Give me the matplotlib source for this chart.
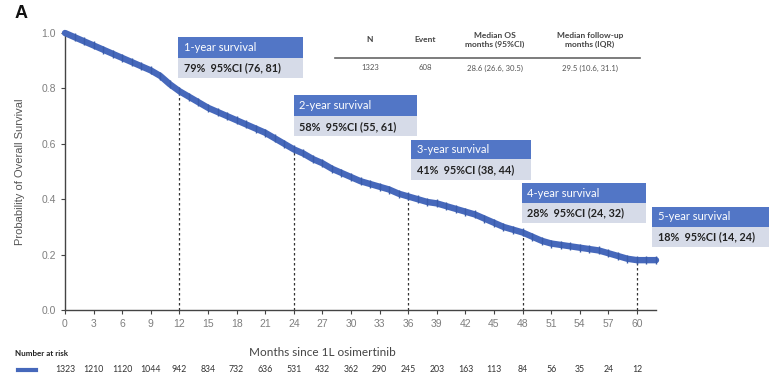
import matplotlib
matplotlib.use("Agg")
import matplotlib.pyplot as plt
from matplotlib.patches import Rectangle
from matplotlib.transforms import blended_transform_factory

# Kaplan-Meier overall survival estimate, read monthly
months = list(range(0, 63))
survival = [1.00, 0.985, 0.97, 0.955, 0.94, 0.925, 0.91, 0.895, 0.88, 0.865,
            0.845, 0.815, 0.79, 0.77, 0.75, 0.73, 0.715, 0.70, 0.685, 0.67,
            0.655, 0.64, 0.62, 0.60, 0.58, 0.565, 0.545, 0.53, 0.51, 0.495,
            0.48, 0.465, 0.455, 0.445, 0.435, 0.42, 0.41, 0.40, 0.39, 0.385,
            0.375, 0.365, 0.355, 0.345, 0.33, 0.315, 0.30, 0.29, 0.28, 0.265,
            0.25, 0.24, 0.235, 0.23, 0.225, 0.22, 0.215, 0.205, 0.195, 0.185,
            0.18, 0.18, 0.18]

# Landmark survival annotations
landmark_months = [12, 24, 36, 48, 60]
landmark_titles = ["1-year survival", "2-year survival", "3-year survival",
                   "4-year survival", "5-year survival"]
landmark_rates = [0.79, 0.58, 0.41, 0.28, 0.18]
landmark_ci = ["(76, 81)", "(55, 61)", "(38, 44)", "(24, 32)", "(14, 24)"]

# Summary table
table_headers = ["N", "Event", "Median OS\nmonths (95%CI)", "Median follow-up\nmonths (IQR)"]
table_values = ["1323", "608", "28.6 (26.6, 30.5)", "29.5 (10.6, 31.1)"]

# Number at risk
risk_months = list(range(0, 61, 3))
at_risk = [1323, 1210, 1120, 1044, 942, 834, 732, 636, 531, 432, 362, 290,
           245, 203, 163, 113, 84, 56, 35, 24, 12]

BLUE = "#4668bb"
HEADER = "#5276c6"
LIGHT = "#d6dbe8"
GRAY = "#7f7f7f"

W, H = 769, 384
fig = plt.figure(figsize=(W / 100, H / 100), dpi=100)
ax = fig.add_axes([65 / W, 1 - 310 / H, 591 / W, 277 / H])

ax.plot(months, survival, color=BLUE, lw=4.6, solid_joinstyle="round",
        solid_capstyle="round", clip_on=False, zorder=3)
ax.plot(months[1:], survival[1:], ls="none", marker="|", ms=6, mew=1.0,
        color="#3a5cab", zorder=4, clip_on=False)

ax.set_xlim(0, 62)
ax.set_ylim(0, 1.0)
ax.set_xticks(risk_months)
ax.set_xticklabels([str(m) for m in risk_months])
ax.set_yticks([0, 0.2, 0.4, 0.6, 0.8, 1.0])
ax.set_yticklabels(["0.0", "0.2", "0.4", "0.6", "0.8", "1.0"])
for s in ["top", "right"]:
    ax.spines[s].set_visible(False)
for s in ["left", "bottom"]:
    ax.spines[s].set_color("#444444")
    ax.spines[s].set_linewidth(1.0)
ax.tick_params(axis="both", length=3, width=0.8, color="#444444",
               labelsize=7.5, labelcolor=GRAY)
for lab in ax.get_xticklabels() + ax.get_yticklabels():
    lab.set_family("Liberation Sans")

# Dashed drop lines at landmarks
for m, r in zip(landmark_months, landmark_rates):
    ax.plot([m, m], [0, r], color="#333333", lw=0.9, ls=(0, (2, 2)), zorder=2)

# Landmark boxes (data coordinates: x0, x1, top, mid, bottom)
boxes = [(11.9, 25.0, 0.985, 0.91, 0.837),
         (24.0, 36.9, 0.776, 0.70, 0.627),
         (36.3, 48.9, 0.614, 0.545, 0.469),
         (47.9, 60.9, 0.458, 0.386, 0.315),
         (61.6, 73.9, 0.372, 0.300, 0.228)]
for (x0, x1, top, mid, bot), title, rate, ci in zip(
        boxes, landmark_titles, landmark_rates, landmark_ci):
    ax.add_patch(Rectangle((x0, mid), x1 - x0, top - mid, facecolor=HEADER,
                           edgecolor="none", clip_on=False, zorder=5))
    ax.add_patch(Rectangle((x0, bot), x1 - x0, mid - bot, facecolor=LIGHT,
                           edgecolor="none", clip_on=False, zorder=5))
    ax.text(x0 + 0.6, (top + mid) / 2, title, color="white", fontsize=8,
            family="Lato", va="center", ha="left", zorder=6, clip_on=False)
    ax.text(x0 + 0.6, (mid + bot) / 2, f"{round(rate * 100)}%  95%CI {ci}",
            color="#222222", fontsize=7.8, family="Lato", fontweight="bold",
            va="center", ha="left", zorder=6, clip_on=False)

# Summary table in figure pixel positions
def fx(px):
    return px / W

def fy(py):
    return 1 - py / H

col_x = [370, 425, 495, 590]
for x, h, v in zip(col_x, table_headers, table_values):
    fig.text(fx(x), fy(40), h, ha="center", va="center", fontsize=6,
             family="Lato", fontweight="bold", color="#444444", linespacing=1.3)
    fig.text(fx(x), fy(68), v, ha="center", va="center", fontsize=5.6,
             family="Lato", color="#555555")
fig.add_artist(plt.Line2D([fx(335), fx(640)], [fy(57.5), fy(57.5)],
                          color="#666666", lw=1.2))

# Axis labels
fig.text(fx(20), fy(172), "Probability of Overall Survival", rotation=90,
         ha="center", va="center", fontsize=8, color="#555555",
         family="Liberation Sans")
fig.text(fx(322), fy(352), "Months since 1L osimertinib", ha="center",
         va="center", fontsize=8.5, color="#444444", family="Lato")
fig.text(fx(15), fy(13), "A", ha="left", va="center", fontsize=13,
         fontweight="bold", color="#111111", family="Liberation Sans")

# Number-at-risk table
fig.text(fx(15), fy(354), "Number at risk", ha="left", va="center",
         fontsize=5.8, fontweight="bold", color="#222222", family="Lato")
fig.add_artist(plt.Line2D([fx(18), fx(36)], [fy(370), fy(370)], color=BLUE,
                          lw=3))
tr = blended_transform_factory(ax.transData, fig.transFigure)
for m, n in zip(risk_months, at_risk):
    fig.text(m, fy(370), str(n), transform=tr, ha="center", va="center",
             fontsize=6.3, color="#333333", family="Lato")

fig.savefig("out.png", dpi=100)
